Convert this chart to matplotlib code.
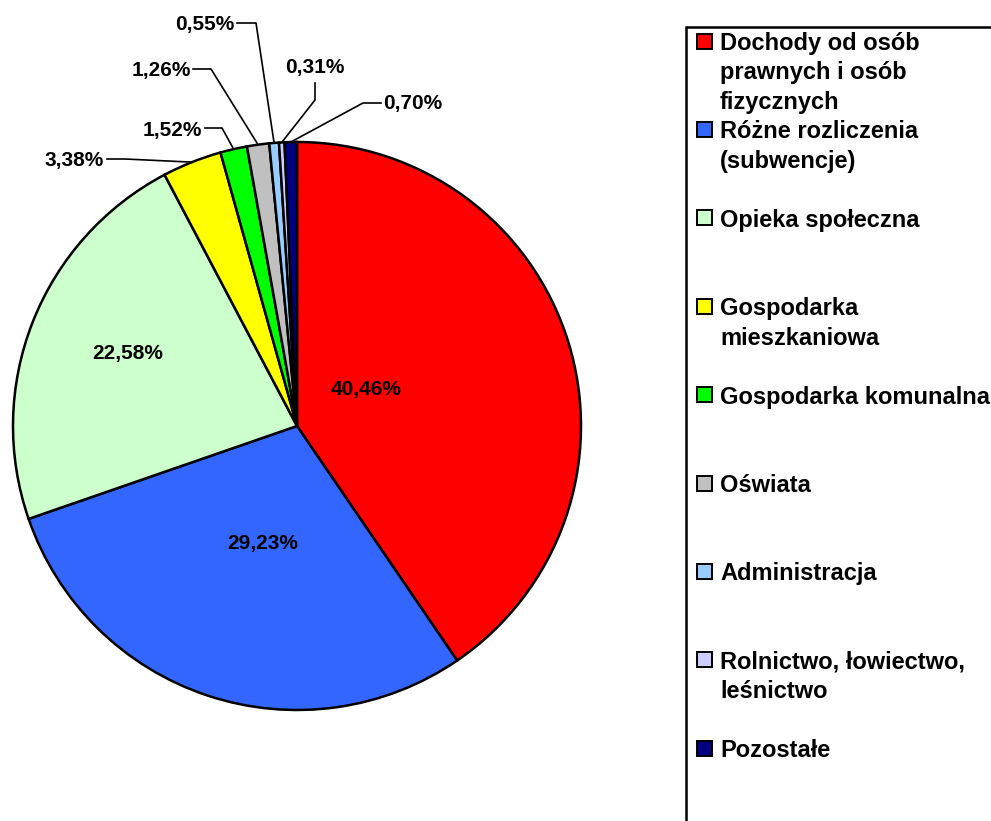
import matplotlib.pyplot as plt
from matplotlib.patches import Rectangle
import numpy as np

plt.rcParams['font.family'] = ['Liberation Sans', 'DejaVu Sans']
plt.rcParams['font.weight'] = 'bold'

# dane (udzialy procentowe)
categories = ['Dochody od osób\nprawnych i osób\nfizycznych',
              'Różne rozliczenia\n(subwencje)',
              'Opieka społeczna',
              'Gospodarka\nmieszkaniowa',
              'Gospodarka komunalna',
              'Oświata',
              'Administracja',
              'Rolnictwo, łowiectwo,\nleśnictwo',
              'Pozostałe']
shares = [40.46, 29.23, 22.58, 3.38, 1.52, 1.26, 0.55, 0.31, 0.70]
colors = ['#FF0000', '#3366FF', '#CCFFCC', '#FFFF00', '#00FF00',
          '#C0C0C0', '#99CCFF', '#CCCCFF', '#000080']

W, H = 991, 821
fig = plt.figure(figsize=(W / 100, H / 100), dpi=100)
ax = fig.add_axes([0, 0, 1, 1])

cx, cy, R = 297, H - 426, 284
ax.pie(shares, colors=colors, startangle=90, counterclock=False,
       center=(cx, cy), radius=R,
       wedgeprops=dict(edgecolor='black', linewidth=1.8))
ax.set_aspect('auto')
ax.set_xlim(0, W)
ax.set_ylim(0, H)
ax.axis('off')

def fmt(v):
    return f"{v:.2f}".replace('.', ',') + '%'

# etykiety wewnatrz (pozycje w pikselach, y od gory)
inner_pos = {0: (366, 389), 1: (263, 543), 2: (128, 353)}
for i, (px, py) in inner_pos.items():
    ax.text(px, H - py, fmt(shares[i]), ha='center', va='center',
            fontsize=15, fontweight='bold')

# etykiety zewnetrzne z liniami odniesienia
# (tekst x, tekst y, ha, punkt startu linii, punkt zalamania)
outer = {
    3: (104, 160, 'right', (107, 159), (125, 159)),
    4: (202, 130, 'right', (205, 128), (222, 128)),
    5: (191, 70, 'right', (193, 69), (211, 69)),
    6: (234, 24, 'right', (237, 23), (256, 23)),
    7: (315, 67, 'center', (315, 83), (315, 100)),
    8: (383, 103, 'left', (381, 103), (363, 103)),
}
total = sum(shares)
cum = np.cumsum([0] + shares[:-1])
for i, (tx, ty, ha, p0, p1) in outer.items():
    frac = (cum[i] + shares[i] / 2) / total
    th = np.deg2rad(90 - 360 * frac)
    ex, ey = cx + R * np.cos(th), cy + R * np.sin(th)
    ax.plot([p0[0], p1[0], ex], [H - p0[1], H - p1[1], ey],
            color='black', lw=1.2)
    ax.text(tx, H - ty, fmt(shares[i]), ha=ha, va='center',
            fontsize=15, fontweight='bold')

# legenda
ax.add_patch(Rectangle((686, -20), 400, H - 27 + 20, facecolor='none',
                       edgecolor='black', lw=1.8))
for k, (lab, col) in enumerate(zip(categories, colors)):
    yc = 41 + k * 88.4
    ax.add_patch(Rectangle((697, H - yc - 7.5), 15, 15, facecolor=col,
                           edgecolor='black', lw=1.4))
    ax.text(720, H - (yc - 9), lab, ha='left', va='top',
            fontsize=17, fontweight='bold', linespacing=1.35)

fig.savefig('out.png', dpi=100)
